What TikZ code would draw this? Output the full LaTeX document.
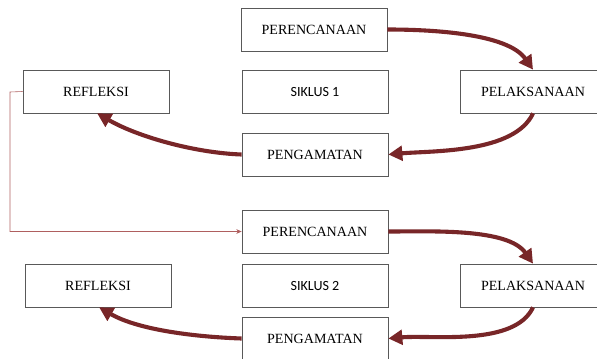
\documentclass[tikz,border=0pt]{standalone}
\usepackage{fontspec}
\setmainfont{Liberation Serif}
\newfontfamily\siklusfont{Carlito}
\usetikzlibrary{positioning, arrows.meta}
\definecolor{cyclered}{RGB}{120, 38, 40}
\definecolor{linkred}{RGB}{175, 95, 95}

\begin{document}
\begin{tikzpicture}[x=0.03cm, y=-0.03cm,
        stage/.style={draw=black!65, line width=0.6pt, fill=white,
            minimum width=4.38cm, minimum height=1.29cm, inner sep=0pt,
            font=\fontsize{12}{14}\selectfont},
        cycle/.style={stage, font=\siklusfont\fontsize{12}{14}\selectfont},
        carr/.style={-{Triangle[length=4.2mm, width=4.4mm]}, line width=3.5pt, cyclered},
        larr/.style={-{Stealth[length=1.6mm, width=1.4mm]}, line width=0.5pt, linkred}
    ]
    \useasboundingbox (0,0) rectangle (597,358);

    % === Siklus 1 ===
    \node[stage] (per1) at (314, 29.5) {PERENCANAAN};
    \node[stage] (ref1) at (96, 91.5) {REFLEKSI};
    \node[cycle] (sik1) at (315, 91.5) {SIKLUS 1};
    \node[stage] (pel1) at (533, 91.5) {PELAKSANAAN};
    \node[stage] (pen1) at (315, 154.5) {PENGAMATAN};

    \draw[carr] (per1.east) to[out=0, in=125, looseness=0.75] (pel1.north);
    \draw[carr] (pel1.south) to[out=-115, in=5, looseness=0.75] (pen1.east);
    \draw[carr] (pen1.west) to[out=178, in=-30, looseness=0.8] ([xshift=1]ref1.south);

    % === Siklus 2 ===
    \node[stage] (per2) at (315, 231.5) {PERENCANAAN};
    \node[stage] (ref2) at (98, 285.5) {REFLEKSI};
    \node[cycle] (sik2) at (315, 285.5) {SIKLUS 2};
    \node[stage] (pel2) at (533, 285.5) {PELAKSANAAN};
    \node[stage] (pen2) at (315, 338.5) {PENGAMATAN};

    \draw[carr] (per2.east) to[out=0, in=125, looseness=0.75] (pel2.north);
    \draw[carr] (pel2.south) to[out=-115, in=5, looseness=0.75] (pen2.east);
    \draw[carr] (pen2.west) to[out=178, in=-30, looseness=0.8] ([xshift=1]ref2.south);

    % === link: refleksi 1 -> perencanaan 2 ===
    \coordinate (lnk) at (10, 92);
    \draw[larr] (ref1.west) -- (lnk) |- (per2.west);

\end{tikzpicture}
\end{document}
